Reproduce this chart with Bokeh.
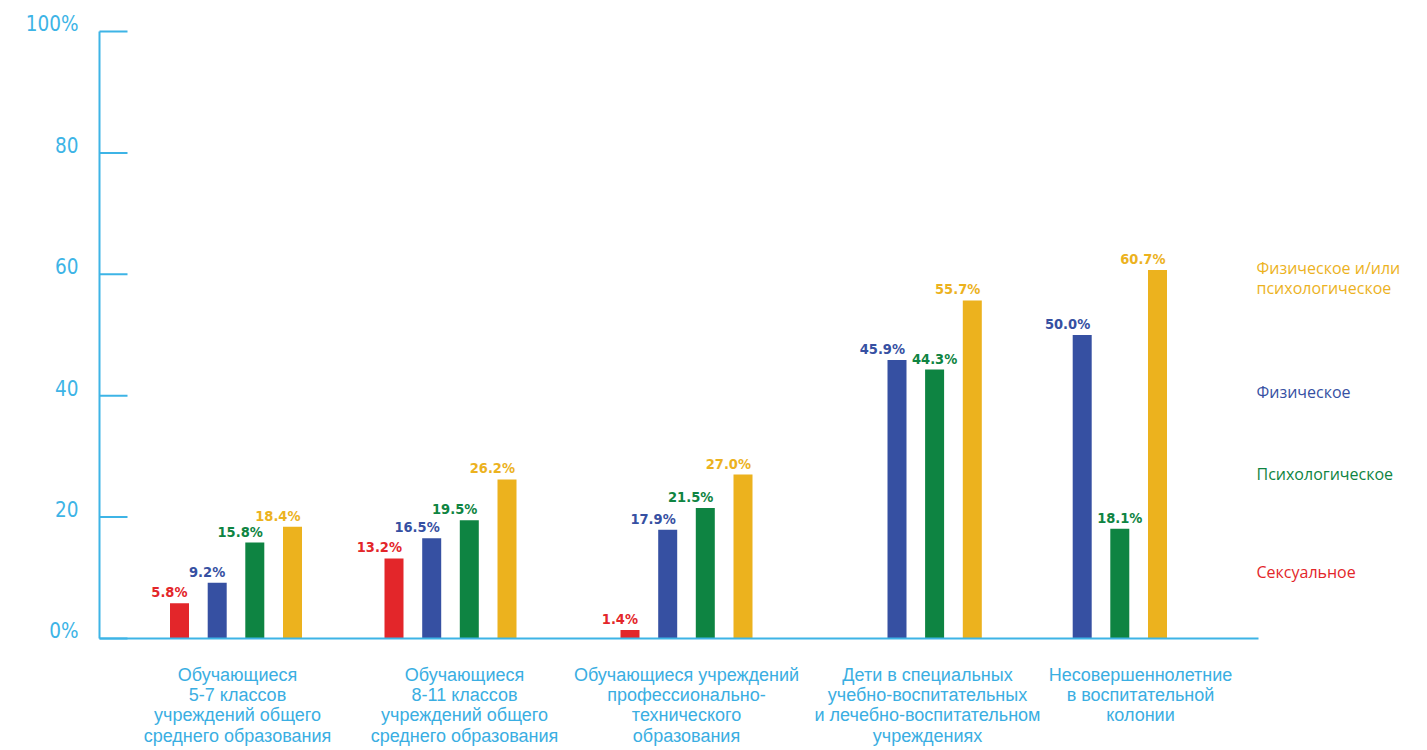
from bokeh.plotting import figure
from bokeh.models import Range1d, LinearAxis, FixedTicker, ColumnDataSource
from bokeh.core.properties import value
from bokeh.embed import file_html
from bokeh.resources import INLINE

# ---------------- data ----------------
categories = [
    "Обучающиеся\n5-7 классов\nучреждений общего\nсреднего образования",
    "Обучающиеся\n8-11 классов\nучреждений общего\nсреднего образования",
    "Обучающиеся учреждений\nпрофессионально-\nтехнического\nобразования",
    "Дети в специальных\nучебно-воспитательных\nи лечебно-воспитательном\nучреждениях",
    "Несовершеннолетние\nв воспитательной\nколонии",
]
series_names = ["Сексуальное", "Физическое", "Психологическое",
                "Физическое и/или\nпсихологическое"]
sexual = [5.8, 13.2, 1.4, None, None]
physical = [9.2, 16.5, 17.9, 45.9, 50.0]
psychological = [15.8, 19.5, 21.5, 44.3, 18.1]
phys_or_psych = [18.4, 26.2, 27.0, 55.7, 60.7]
y_ticks = [0, 20, 40, 60, 80, 100]
y_tick_labels = ["0%", "20", "40", "60", "80", "100%"]

# ---------------- style / layout ----------------
colors = ["#E3262A", "#3650A2", "#0E8442", "#ECB21E"]
axis_color = "#3DB4E6"
label_color = "#3AAEE2"
W, H = 1427, 750
BASE_Y = 638.0      # pixel y of 0%
TOP_Y = 31.0        # pixel y of 100%
ppu = (BASE_Y - TOP_Y) / 100.0
COND = "DejaVu Sans Condensed"
AXIS_X = 99
TICK_LEN = 28

def yv(py):
    return (BASE_Y - py) / ppu

group_centers = [235.5, 450.0, 686.0, 915.3, 1100.5]
label_centers = [237.0, 464.0, 686.0, 927.0, 1140.0]
slot_offsets = [-56.5, -18.8, 18.8, 56.5]
bar_w = 19

p = figure(width=W, height=H, output_backend="svg", toolbar_location=None,
           x_range=Range1d(0, W),
           y_range=Range1d(yv(H), yv(0)),
           x_axis_location=None, y_axis_location=None, min_border=0)
p.outline_line_color = None
p.grid.visible = False
p.background_fill_color = "white"
p.border_fill_color = "white"

# axes (lines only; ticks and labels drawn below)
for axis, loc, fixed, bounds in (
        (LinearAxis(), "left", AXIS_X, (0, 100)),
        (LinearAxis(), "below", 0, (AXIS_X, 1258))):
    axis.ticker = FixedTicker(ticks=[])
    axis.fixed_location = fixed
    axis.bounds = bounds
    axis.axis_line_color = axis_color
    axis.axis_line_width = 2
    axis.major_tick_line_color = None
    axis.minor_tick_line_color = None
    p.add_layout(axis, loc)

# y tick marks pointing inward, and their labels
p.segment(x0=[AXIS_X] * len(y_ticks), x1=[AXIS_X + TICK_LEN] * len(y_ticks),
          y0=y_ticks, y1=y_ticks, line_color=axis_color, line_width=2)
p.text(x=[78] * len(y_ticks), y=y_ticks, text=y_tick_labels,
       text_align="right", text_baseline="middle", y_offset=-8,
       text_color=axis_color, text_font=value(COND), text_font_size="20.5px")

# bars and value labels
all_series = [sexual, physical, psychological, phys_or_psych]
for si, vals in enumerate(all_series):
    xs, tops = [], []
    rx, ry, rt = [], [], []
    cx, cy, ct = [], [], []
    for gi, v in enumerate(vals):
        if v is None:
            continue
        x = group_centers[gi] + slot_offsets[si]
        xs.append(x)
        tops.append(v)
        left = all_series[si - 1][gi] if si > 0 else None
        txt = f"{v:.1f}%"
        if left is not None and left > v:
            cx.append(x); cy.append(v); ct.append(txt)
        else:
            rx.append(x + 8); ry.append(v); rt.append(txt)
    p.vbar(x=xs, top=tops, bottom=0, width=bar_w, color=colors[si],
           line_color=None)
    common = dict(text_color=colors[si], text_font=value(COND),
                  text_font_size="14.5px", text_font_style="bold",
                  text_baseline="middle", y_offset=-11)
    if rx:
        p.text(x=rx, y=ry, text=rt, text_align="right", **common)
    if cx:
        p.text(x=cx, y=cy, text=ct, text_align="center", **common)

# category labels
p.text(x=label_centers, y=[yv(664)] * len(categories), text=categories,
       text_align="center", text_baseline="top", text_color=label_color,
       text_font=value("Liberation Sans"), text_font_size="18px",
       text_line_height=1.02)

# legend texts on the right
legend_y = [yv(560), yv(380), yv(462), yv(256)]
src = ColumnDataSource(dict(x=[1256] * 4, y=legend_y, t=series_names,
                            c=colors))
p.text(x="x", y="y", text="t", text_color="c", source=src,
       text_align="left", text_baseline="top",
       text_font=value("Open Sans"), text_font_size="16px",
       text_line_height=0.93)

open("out.html", "w").write(file_html(p, INLINE))
